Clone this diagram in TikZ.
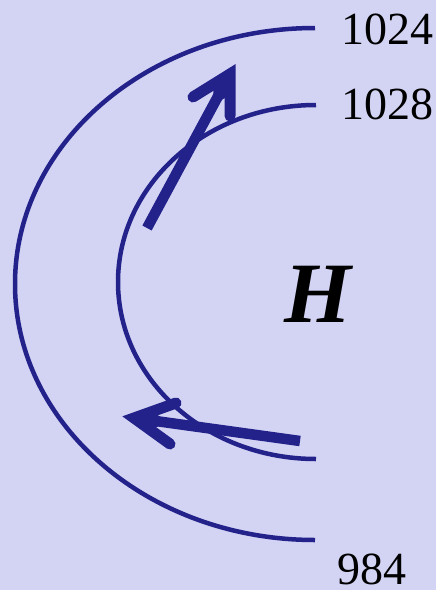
\documentclass[tikz,border=0pt]{standalone}
\usepackage{fontspec}
\setmainfont{Liberation Serif}
\usetikzlibrary{calc}
\definecolor{bgc}{RGB}{211,211,244}
\definecolor{ink}{RGB}{34,34,138}
\begin{document}
\begin{tikzpicture}[x=1pt,y=-1pt,
  isobar/.style={draw=ink,line width=4.5pt},
  windshaft/.style={draw=ink,line width=10.5pt,line cap=butt},
  windhead/.style={draw=ink,line width=11pt,line cap=round,line join=miter,miter limit=20},
  lbl/.style={anchor=base west,inner sep=0pt,font=\fontsize{46}{50}\selectfont}]
\fill[bgc] (0,0) rectangle (436,590);
\useasboundingbox (0,0) rectangle (436,590);
% isobars
\draw[isobar] (315,28) arc[start angle=270,end angle=90,x radius=300,y radius=256];
\draw[isobar] (316,105) arc[start angle=270,end angle=90,x radius=198,y radius=177];
% labels
\node[lbl] (p1024) at (341,44) {1024};
\node[lbl] (p1028) at (341,119) {1028};
\node[lbl] (p984) at (337,584) {984};
\node[anchor=base,inner sep=0pt,font=\fontsize{86}{90}\selectfont\bfseries\itshape] (H) at (318,322) {H};
% wind arrows
\coordinate (t1) at (147,228);
\coordinate (h1) at (230,74);
\coordinate (a1) at (193,97);
\coordinate (b1) at (230,116);
\draw[windshaft] (t1) -- ($(t1)!0.9!(h1)$);
\draw[windhead] (a1) -- (h1) -- (b1);
\fill[ink] (h1) -- ($(h1)!0.45!(a1)$) -- ($(h1)!0.2!(t1)$) -- ($(h1)!0.5!(b1)$) -- cycle;
\coordinate (t2) at (300,441);
\coordinate (h2) at (134,418);
\coordinate (a2) at (176,403);
\coordinate (b2) at (170,444);
\draw[windshaft] (t2) -- ($(t2)!0.9!(h2)$);
\draw[windhead] (a2) -- (h2) -- (b2);
\fill[ink] (h2) -- ($(h2)!0.45!(a2)$) -- ($(h2)!0.2!(t2)$) -- ($(h2)!0.45!(b2)$) -- cycle;
\end{tikzpicture}
\end{document}
